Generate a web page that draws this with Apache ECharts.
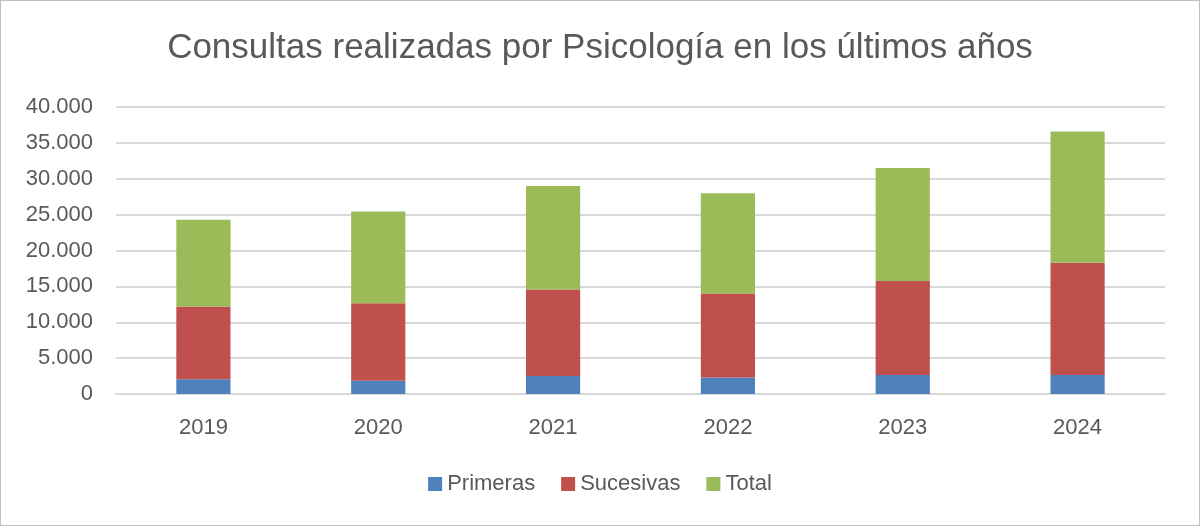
<!DOCTYPE html>
<html>
<head>
<meta charset="utf-8">
<script src="https://cdn.jsdelivr.net/npm/echarts@6/dist/echarts.min.js"></script>
<style>
  html, body { margin:0; padding:0; background:#fff; }
  #chart { width:1198px; height:524px; border:1px solid #bfbfbf; }
</style>
</head>
<body>
<div id="chart"></div>
<script>
// datos
var years = ['2019', '2020', '2021', '2022', '2023', '2024'];
var primeras = [2050, 1850, 2500, 2300, 2650, 2650];
var sucesivas = [10150, 10800, 12050, 11700, 13100, 15650];
var total = [12100, 12800, 14450, 13980, 15750, 18300];
var yTicks = [0, 5000, 10000, 15000, 20000, 25000, 30000, 35000, 40000];

var font = 'Liberation Sans';

// 40000 -> "40.000"
function miles(v){
    return String(v).replace(/\B(?=(\d{3})+(?!\d))/g, '.');
}

function serie(nombre, datos, color){
    return {
        name: nombre,
        type: 'bar',
        stack: 'consultas',
        barWidth: '31%',
        data: datos,
        itemStyle: { color: color }
    };
}

var option = {
    animation: false,
    title: {
        text: 'Consultas realizadas por Psicología en los últimos años',
        left: 'center',
        top: 25,
        textStyle: { fontFamily: font, fontSize: 35, fontWeight: 'normal', color: '#595959' }
    },
    legend: {
        top: 467,
        left: 'center',
        itemWidth: 14,
        itemHeight: 14,
        itemGap: 26,
        icon: 'rect',
        textStyle: { fontFamily: font, fontSize: 22, color: '#595959' },
        data: ['Primeras', 'Sucesivas', 'Total']
    },
    grid: { left: 115, right: 34, top: 106, bottom: 131, containLabel: false },
    xAxis: {
        type: 'category',
        data: years,
        axisTick: { show: false },
        axisLine: { lineStyle: { color: '#d9d9d9', width: 2 } },
        axisLabel: { fontFamily: font, fontSize: 22, color: '#595959', margin: 23 }
    },
    yAxis: {
        type: 'value',
        min: yTicks[0],
        max: yTicks[yTicks.length - 1],
        interval: yTicks[1] - yTicks[0],
        axisLine: { show: false },
        axisTick: { show: false },
        splitLine: { lineStyle: { color: '#d9d9d9', width: 2 } },
        axisLabel: { fontFamily: font, fontSize: 22, color: '#595959', margin: 23, formatter: miles }
    },
    series: [
        serie('Primeras', primeras, '#4f81bd'),
        serie('Sucesivas', sucesivas, '#c0504d'),
        serie('Total', total, '#9bbb59')
    ]
};

var myChart = echarts.init(document.getElementById('chart'));
myChart.setOption(option);
</script>
</body>
</html>
